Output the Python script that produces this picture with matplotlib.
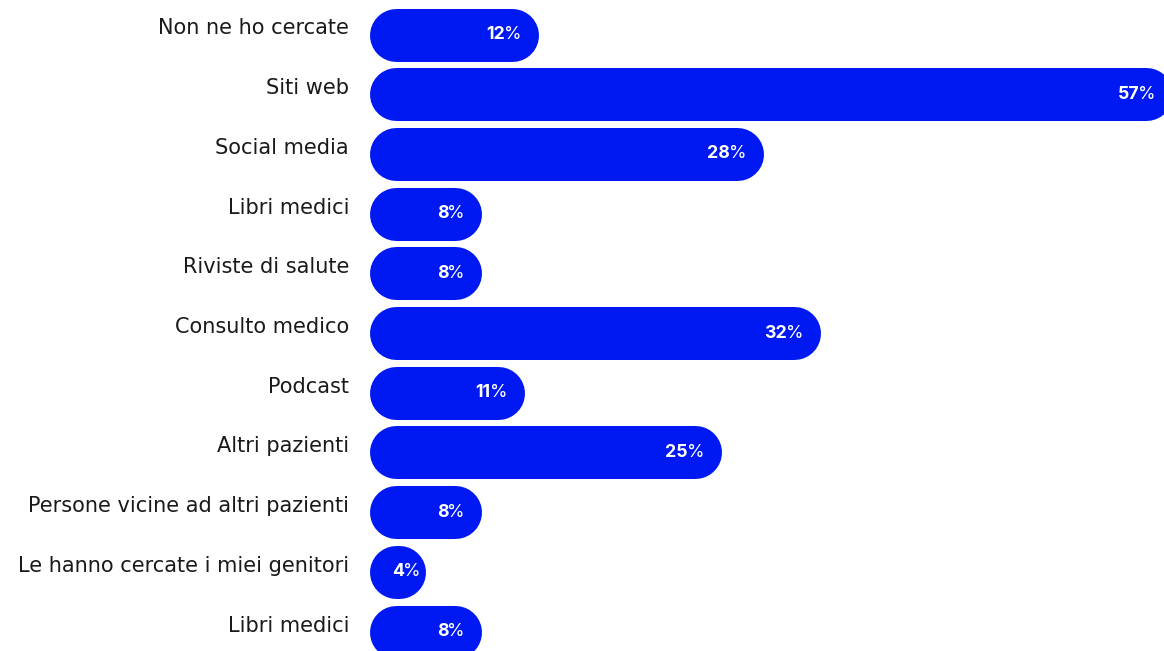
import matplotlib.pyplot as plt

categories = [
    "Non ne ho cercate",
    "Siti web",
    "Social media",
    "Libri medici",
    "Riviste di salute",
    "Consulto medico",
    "Podcast",
    "Altri pazienti",
    "Persone vicine ad altri pazienti",
    "Le hanno cercate i miei genitori",
    "Libri medici",
]
values = [12, 57, 28, 8, 8, 32, 11, 25, 8, 4, 8]

BLUE = "#0019F2"
W, H, DPI = 1164, 651, 100

# layout in pixels
x0_px = 369          # where the bars start
px_per_pct = 14.1
row_top = 34.5        # center of first row
row_gap = 59.7
bar_h_px = 53

fig = plt.figure(figsize=(W / DPI, H / DPI), dpi=DPI)
ax = fig.add_axes([x0_px / W, 0, 1 - x0_px / W, 1])
ax.set_xlim(0, (W - x0_px) / px_per_pct)
ax.set_ylim(len(values) - 1 + (H - row_top - row_gap * (len(values) - 1)) / row_gap,
            -row_top / row_gap)
ax.axis("off")

lw = bar_h_px * 72 / DPI
r = (bar_h_px / 2) / px_per_pct   # cap radius in % units

for i, (cat, v) in enumerate(zip(categories, values)):
    # pill shaped bar: thick line with round caps
    ax.plot([r, max(v - r, r + 0.01)], [i, i], color=BLUE, lw=lw,
            solid_capstyle="round", clip_on=True)

    # value label: bold number followed by a regular "%"
    pad = -5 if v < 6 else -17
    pct = ax.annotate("%", xy=(v, i), xytext=(pad * 0.72, 0),
                      textcoords="offset points", ha="right", va="center",
                      color="white", fontsize=12.8, fontfamily="Inter",
                      annotation_clip=False)
    ax.annotate(str(v), xy=(0, 0.5), xycoords=pct, xytext=(0.6, 0),
                textcoords="offset points", ha="right", va="center",
                color="white", fontsize=12.8, fontweight="bold",
                fontfamily="Inter", annotation_clip=False)

    ax.annotate(cat, xy=(0, i), xytext=(-20 * 0.72, 6 * 0.72),
                textcoords="offset points", ha="right", va="center",
                color="#1a1a1a", fontsize=15, fontfamily="DejaVu Sans",
                annotation_clip=False)

fig.savefig("out.png", dpi=DPI)
